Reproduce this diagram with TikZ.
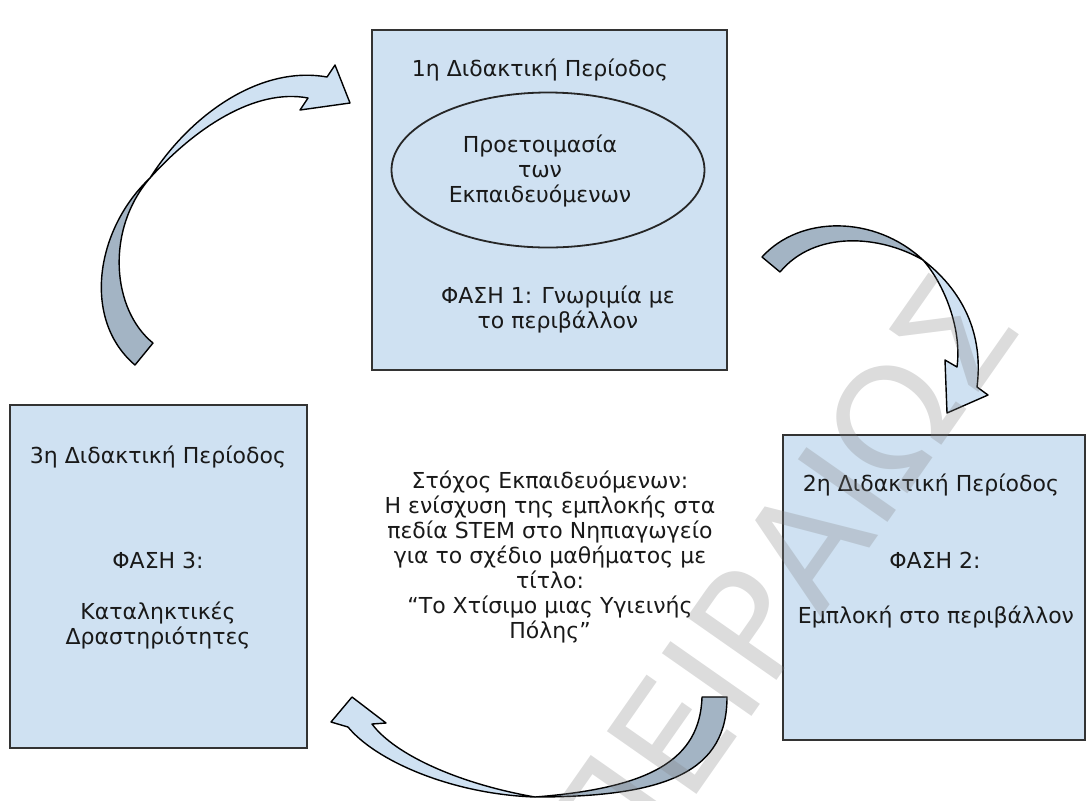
\documentclass[tikz,border=0pt]{standalone}
\usepackage{fontspec}
\setmainfont{DejaVu Sans}
\usetikzlibrary{shapes,positioning}
\definecolor{boxblue}{HTML}{CFE1F2}
\definecolor{tailgrey}{HTML}{A3B4C4}
\tikzset{period/.style={draw=black!80, line width=1pt, fill=boxblue, inner sep=0pt},
txt/.style={align=center, text=black!90, inner sep=0pt,
  font=\fontsize{11}{12.5}\selectfont},
headpart/.style={draw=black, line width=0.7pt, fill=boxblue, line join=round},
tailpart/.style={draw=black, line width=0.7pt, fill=tailgrey, line join=round}
}

\begin{document}
\begin{tikzpicture}[x=0.5pt, y=-0.5pt]
  \useasboundingbox (0,0) rectangle (1087,800);

  \node[period, minimum width=177.5pt, minimum height=170pt]   (p_1) at (549.5,200) {};
  \node[period, minimum width=151pt, minimum height=152.5pt]   (p_2) at (934,587.5) {};
  \node[period, minimum width=148.5pt, minimum height=171.5pt] (p_3) at (158.5,576.5) {};
  \node[draw=black!85, line width=0.9pt, ellipse, inner sep=0pt,
        minimum width=156.5pt, minimum height=77.5pt]           (prep) at (548,170) {};

  \node[txt] (h_1) at (540,70)  {1η Διδακτική Περίοδος};
  \node[txt] (e_1) at (540,171) {Προετοιμασία\\των\\Εκπαιδευόμενων};
  \node[txt] (f_1) at (558,309) {ΦΑΣΗ 1: Γνωριμία με\\το περιβάλλον};
  \node[txt] (h_2) at (931,485) {2η Διδακτική Περίοδος};
  \node[txt] (f_2) at (935,560) {ΦΑΣΗ 2:};
  \node[txt] (g_2) at (936,617) {Εμπλοκή στο περιβάλλον};
  \node[txt] (h_3) at (158,457) {3η Διδακτική Περίοδος};
  \node[txt] (f_3) at (158,560) {ΦΑΣΗ 3:};
  \node[txt] (g_3) at (158,625) {Καταληκτικές\\Δραστηριότητες};
  \node[txt] (goal) at (550,557) {Στόχος Εκπαιδευόμενων:\\Η ενίσχυση της εμπλοκής στα\\
    πεδία STEM στο Νηπιαγωγείο\\για το σχέδιο μαθήματος με\\τίτλο:\\
    “Το Χτίσιμο μιας Υγιεινής\\Πόλης”};

  \coordinate (a_x) at (150,178);
  \draw[tailpart] (135,365) -- (153,343) .. controls (112,310) and (105,230) .. (a_x)
                  .. controls (95,230) and (82,320) .. (135,365) -- cycle;
  \draw[headpart] (a_x) .. controls (190,115) and (260,65) .. (327,77) -- (335,65)
                  -- (350,103) -- (300,110) -- (308,98)
                  .. controls (255,88) and (195,128) .. (a_x) -- cycle;

  \coordinate (b_x) at (923,260);
  \draw[tailpart] (762,257) .. controls (800,215) and (875,215) .. (b_x)
                  .. controls (880,235) and (815,230) .. (780,272) -- cycle;
  \draw[headpart] (b_x) .. controls (945,285) and (962,330) .. (957,367) -- (945,360)
                  -- (947,413) -- (988,395) -- (977,387)
                  .. controls (983,340) and (968,295) .. (b_x) -- cycle;

  \coordinate (c_x) at (535,797);
  \draw[tailpart] (702,697) -- (727,697) .. controls (727,770) and (670,797) .. (c_x)
                  .. controls (650,788) and (700,760) .. (702,697) -- cycle;
  \draw[headpart] (c_x) .. controls (450,794) and (375,760) .. (348,727) -- (331,722)
                  -- (352,697) -- (386,723) -- (372,724)
                  .. controls (395,755) and (460,784) .. (c_x) -- cycle;

  \node[rotate=55, text=black!50, opacity=0.28,
        font=\fontsize{75}{75}\selectfont] (mark) at (779,581) {ΠΕΙΡΑΙΩΣ};
\end{tikzpicture}
\end{document}
